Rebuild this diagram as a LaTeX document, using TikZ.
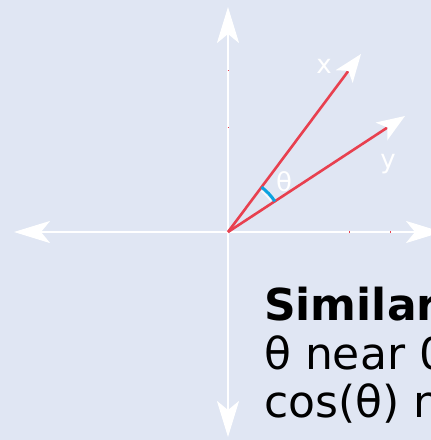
\documentclass[tikz,border=0pt]{standalone}
\usepackage{fontspec}
\setmainfont{DejaVu Sans}
\usetikzlibrary{arrows.meta}
\definecolor{bgc}{HTML}{E0E6F3}
\definecolor{vecred}{HTML}{E8404F}
\definecolor{arcblue}{HTML}{0AA2E0}
\tikzset{
  axisline/.style={draw=white, line width=2.4pt, -{Stealth[length=36pt,width=22pt,inset=9pt,fill=white]}},
  vecline/.style={draw=vecred, line width=2.6pt, -{Stealth[length=28pt,width=21pt,inset=7pt,color=white,fill=white]}},
  wlabel/.style={text=white, font=\fontsize{26}{30}\selectfont, inner sep=0pt},
  bodytext/.style={text=black, font=\fontsize{44}{50}\selectfont, inner sep=0pt, anchor=base west},
  tickmark/.style={draw=vecred, line width=1pt}
}
\begin{document}
\begin{tikzpicture}[x=1pt,y=-1pt]
\useasboundingbox (0,0) rectangle (431,440);
\clip (0,0) rectangle (431,440);
\fill[bgc] (0,0) rectangle (431,440);
% coordinates
\coordinate (O) at (228,232);
\coordinate (L) at (14,232);
\coordinate (R) at (442,232);
\coordinate (T) at (228,7);
\coordinate (B) at (228,437);
\coordinate (X) at (361,54);
\coordinate (Y) at (405,116);
% axes
\draw[axisline] (O) -- (L);
\draw[axisline] (O) -- (R);
\draw[axisline] (O) -- (T);
\draw[axisline] (O) -- (B);
% ticks
\draw[tickmark] (227.5,70) -- (229,70);
\draw[tickmark] (227.5,127) -- (229,127);
\draw[tickmark] (349,231) -- (349,233);
\draw[tickmark] (390,231) -- (390,233);
% vectors
\draw[vecline] (O) -- (X);
\draw[vecline] (O) -- (Y);
% angle arc
\draw[white, line width=1.5pt, opacity=0.8] (O) ++(-51:53) arc[start angle=-51, end angle=-36, radius=53];
\draw[arcblue, line width=3pt] (O) ++(-53.2:56) arc[start angle=-53.2, end angle=-33.2, radius=56];
% labels
\node[wlabel] (lx) at (324,66) {x};
\node[wlabel] (ly) at (388,164) {y};
\node[wlabel] (lt) at (284,182) {θ};
% text
\node[bodytext] (t1) at (264,320) {\bfseries Similar};
\node[bodytext] (t2) at (264,369) {θ near 0};
\node[bodytext] (t3) at (264,417) {cos(θ) n};
\end{tikzpicture}
\end{document}
